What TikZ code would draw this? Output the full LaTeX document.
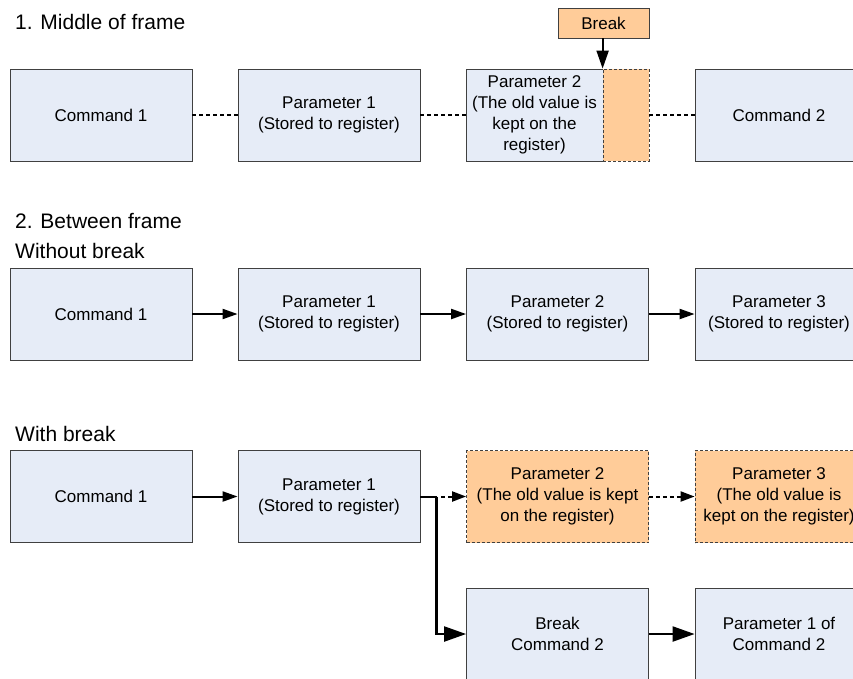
\documentclass[tikz,border=0pt]{standalone}
\usepackage{fontspec}
\setmainfont{Liberation Sans}
\usetikzlibrary{arrows.meta}
\definecolor{boxblue}{RGB}{230,236,247}
\definecolor{boxorange}{RGB}{255,204,153}
\definecolor{boxline}{RGB}{64,64,64}
\tikzset{
  box/.style={draw=boxline, line width=0.8pt, fill=boxblue, minimum width=182pt, minimum height=92pt, inner sep=0pt, align=center, font=\fontsize{17}{21}\selectfont},
  rbox/.style={box, minimum width=168pt},
  obox/.style={box, fill=boxorange, dash pattern=on 3pt off 2pt},
  head/.style={anchor=west, inner sep=0pt, font=\fontsize{21}{25}\selectfont},
  conn/.style={line width=2pt},
  dotconn/.style={line width=2pt, dash pattern=on 4pt off 3pt},
  arr/.style={line width=2pt, -{Triangle[length=15pt,width=10pt]}},
  bigarr/.style={line width=2.2pt, -{Triangle[length=22pt,width=15pt]}},
}
\begin{document}
\begin{tikzpicture}[x=1pt,y=-1pt]
\useasboundingbox (0,0) rectangle (853,678);
\clip (0,0) rectangle (853,678);
% headings
\node[head] (h1) at (15,22) {1. Middle of frame};
\node[head] (h2) at (15,221) {2. Between frame};
\node[head] (h3) at (15,251) {Without break};
\node[head] (h4) at (15,434) {With break};
% row 1
\node[box] (a1) at (101,115) {Command 1};
\node[box] (a2) at (329,115) {Parameter 1\\(Stored to register)};
\node[box, minimum width=137pt] (a3) at (534.5,115) {Parameter 2\\(The old value is\\kept on the\\register)};
\node[obox, minimum width=46pt] (a3b) at (626,115) {};
\node[rbox] (a4) at (779,115) {Command 2};
\node[box, fill=boxorange, minimum width=91pt, minimum height=30pt] (brk) at (603.5,23) {Break};
\draw[dotconn] (a1.east) -- (a2.west);
\draw[dotconn] (a2.east) -- (a3.west);
\draw[dotconn] (a3b.east) -- (a4.west);
\draw[line width=2pt, -{Triangle[length=18pt,width=12pt]}] (brk.south -| a3b.west) -- (a3b.north west);
% row 2
\node[box] (b1) at (101,314) {Command 1};
\node[box] (b2) at (329,314) {Parameter 1\\(Stored to register)};
\node[box] (b3) at (557.5,314) {Parameter 2\\(Stored to register)};
\node[rbox] (b4) at (779,314) {Parameter 3\\(Stored to register)};
\draw[arr] (b1.east) -- (b2.west);
\draw[arr] (b2.east) -- (b3.west);
\draw[arr] (b3.east) -- (b4.west);
% row 3
\node[box] (c1) at (101,496.5) {Command 1};
\node[box] (c2) at (329,496.5) {Parameter 1\\(Stored to register)};
\node[obox] (c3) at (557.5,496.5) {Parameter 2\\(The old value is kept\\on the register)};
\node[obox, minimum width=168pt] (c4) at (779,496.5) {Parameter 3\\(The old value is\\kept on the register)};
\node[box] (d3) at (557.5,634) {Break\\Command 2};
\node[rbox] (d4) at (779,634) {Parameter 1 of\\Command 2};
\coordinate (j) at ([xshift=17pt]c2.east);
\coordinate (jd) at ([xshift=21pt]c2.east);
\draw[arr] (c1.east) -- (c2.west);
\draw[conn] (c2.east) -- (j);
\draw[line width=2pt, dash pattern=on 4pt off 3pt, -{Triangle[length=14pt,width=10pt]}] (jd) -- (c3.west);
\draw[line width=2pt, dash pattern=on 4pt off 3pt, -{Triangle[length=14pt,width=10pt]}] (c3.east) -- (c4.west);
\draw[bigarr] ([xshift=-1pt]j) |- (d3.west);
\draw[bigarr] (d3.east) -- (d4.west);
\end{tikzpicture}
\end{document}
